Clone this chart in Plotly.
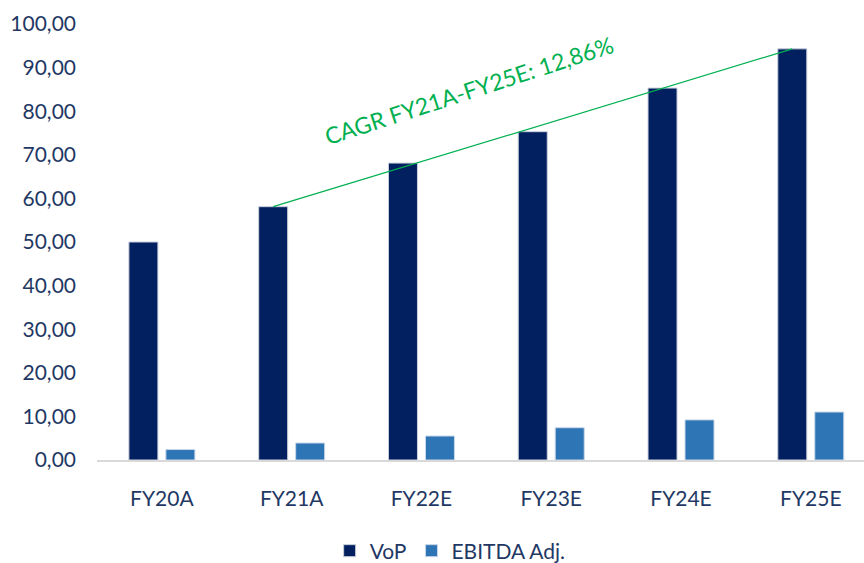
import plotly.graph_objects as go

categories = ["FY20A", "FY21A", "FY22E", "FY23E", "FY24E", "FY25E"]
vop = [50.0, 58.1, 68.1, 75.3, 85.3, 94.3]
ebitda = [2.4, 3.9, 5.5, 7.4, 9.2, 11.0]
series_names = ["VoP", "EBITDA Adj."]
cagr_label = "CAGR FY21A-FY25E: 12,86%"
y_ticks = [0, 10, 20, 30, 40, 50, 60, 70, 80, 90, 100]
y_ticktext = ["0,00", "10,00", "20,00", "30,00", "40,00", "50,00", "60,00", "70,00", "80,00", "90,00", "100,00"]

NAVY = "#02205F"
BLUE = "#2E75B6"
GREEN = "#00B050"
TEXT = "#1F3864"
FONT = "Lato"

fig = go.Figure()
fig.add_trace(go.Bar(x=categories, y=vop, name=series_names[0],
                     marker=dict(color=NAVY, line=dict(color="#C9CEDB", width=1))))
fig.add_trace(go.Bar(x=categories, y=ebitda, name=series_names[1],
                     marker=dict(color=BLUE, line=dict(color="#C9D6E8", width=1))))

# CAGR line from FY21A VoP to FY25E VoP (bar centre offset within group)
off = -0.1425
fig.add_shape(type="line", xref="x", yref="y",
              x0=1 + off, y0=vop[1], x1=5 + off, y1=vop[5],
              line=dict(color=GREEN, width=1.2))
fig.add_annotation(x=2.37, y=84.9, xref="x", yref="y", text=cagr_label,
                   showarrow=False, textangle=-18,
                   font=dict(family=FONT, size=23, color=GREEN))

fig.update_layout(
    width=864, height=563,
    margin=dict(l=97, r=0, t=24, b=102.5),
    paper_bgcolor="white", plot_bgcolor="white",
    barmode="group", bargap=0.43, bargroupgap=0.216,
    font=dict(family=FONT, size=21, color=TEXT),
    showlegend=True,
    legend=dict(orientation="h", xref="container", yref="container",
                x=0.521, xanchor="center", y=0.0213, yanchor="middle",
                font=dict(family=FONT, size=21, color=TEXT), itemwidth=30,
                bgcolor="rgba(0,0,0,0)"),
    xaxis=dict(type="category", range=[-0.5, 5.41], showgrid=False, automargin=False,
               showline=True, linecolor="#D9D9D9", linewidth=2,
               ticks="", ticklabelstandoff=19,
               tickfont=dict(family=FONT, size=21, color=TEXT)),
    yaxis=dict(range=[0, 100], tickvals=y_ticks, ticktext=y_ticktext, automargin=False,
               showgrid=False, zeroline=False, showline=False, ticks="",
               ticklabelstandoff=20,
               tickfont=dict(family=FONT, size=21, color=TEXT)),
)

fig.write_html("out.html", config={"displayModeBar": False},
               post_script="document.body.style.margin='0';document.body.style.overflow='hidden';")
